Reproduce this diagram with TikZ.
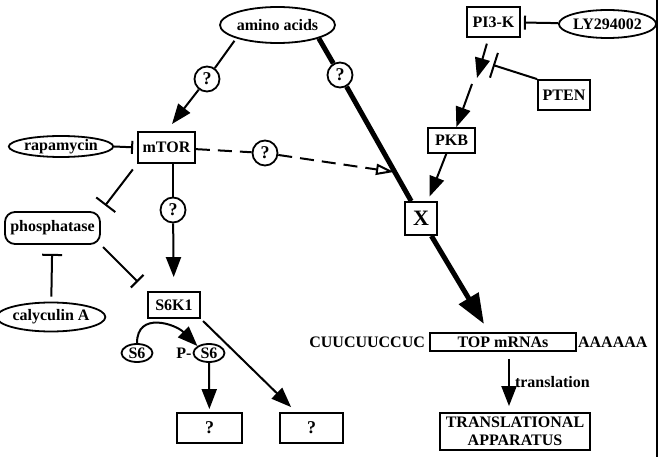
\documentclass[tikz,border=0pt]{standalone}
\usepackage{fontspec}
\setmainfont{Liberation Serif}
\usetikzlibrary{arrows.meta,shapes.geometric,positioning}

\begin{document}
\begin{tikzpicture}[x=1pt,y=-1pt,
    font=\fontsize{16}{17}\selectfont\bfseries,
    every node/.style={inner sep=0pt},
    bx/.style 2 args={draw,line width=1.8pt,minimum width=#1,minimum height=#2},
    oval/.style 2 args={ellipse,draw,line width=1.8pt,minimum width=#1,minimum height=#2},
    qfont/.style={font=\fontsize{18}{18}\selectfont\bfseries},
    qm/.style={circle,draw,line width=1.8pt,minimum size=25pt,qfont},
    ln/.style={line width=2pt},
    act/.style={ln,-{Triangle[length=20pt,width=15pt]}},
    inh/.style={ln,-{Bar[width=#1]}},
    inh/.default=16pt,
    dsh/.style={ln,dash pattern=on 14pt off 8pt},
    fat/.style={line width=5pt}]
  \useasboundingbox (0,0) rectangle (661,457);
  \draw[line width=1.5pt] (657,0) -- (657,457);
  % ovals
  \node[oval={107pt}{36pt}] (aa) at (277.5,25) {amino acids};
  \node[oval={92pt}{21pt}] (rapa) at (61,146.5) {rapamycin};
  \node[oval={91pt}{29pt}] (caly) at (51,317) {calyculin A};
  \node[oval={91pt}{28pt}] (ly) at (607.5,24) {LY294002};
  \node[oval={31pt}{18pt}] (s6) at (137,353) {S6};
  \node[oval={31pt}{18pt}] (ps6) at (209,353) {S6};
  \node[left=1pt of ps6] (pp) {P-};
  % boxes
  \node[bx={57pt}{31pt}] (mtor) at (166.5,147.5) {mTOR};
  \node[bx={95pt}{32pt},rounded corners=10pt] (phos) at (52.5,228) {phosphatase};
  \node[bx={52pt}{26pt}] (s6k1) at (174,305) {S6K1};
  \node[bx={65pt}{30pt},qfont] (qb1) at (209.5,428) {?};
  \node[bx={63pt}{30pt},qfont] (qb2) at (311.5,428) {?};
  \node[bx={53pt}{30pt}] (pi3k) at (493.5,22) {PI3-K};
  \node[bx={52pt}{30pt}] (pten) at (564,95) {PTEN};
  \node[bx={47pt}{25pt}] (pkb) at (451.5,140.5) {PKB};
  \node[bx={32pt}{33pt},font=\fontsize{22}{22}\selectfont\bfseries] (x) at (421,218.5) {X};
  \node[bx={146pt}{18pt}] (top) at (503,342) {TOP mRNAs};
  \node[left=4pt of top] (cuu) {CUUCUUCCUC};
  \node[right=1pt of top] (aaa) {AAAAAA};
  \node[bx={150pt}{37pt},align=center,font=\fontsize{16}{18}\selectfont\bfseries] (trans) at (515,431.5) {TRANSLATIONAL\\APPARATUS};
  \foreach \n/\x/\y in {qa/207/79, qb/340/75, qc/265/153, qd/173/210}{
    \node[qm] (\n) at (\x,\y) {?};
  }
  \coordinate (hit) at (394,172);
  \coordinate (tp) at (484,324);
  \coordinate (m1) at (477,78);
  \coordinate (m2) at (472,84);
  \coordinate (pb) at (493,65);
  \coordinate (t1) at ([xshift=6pt]top.south);
  \coordinate (t2) at (t1 |- trans.north);
  % amino acids
  \draw[ln,shorten <=3pt] (aa.south west) -- (qa);
  \draw[act,shorten >=9pt] (qa) -- (mtor.north);
  \draw[fat] (aa.south east) -- (qb) -- (x);
  \draw[fat,-{Triangle[length=30pt,width=22pt]}] (x) -- (tp);
  \draw[dsh] (mtor) -- (qc);
  \draw[dsh,-{Triangle[open,length=18pt,width=11pt]}] (qc) -- (hit);
  % mTOR branch
  \draw[ln] (mtor.south -| qd) -- (qd);
  \draw[act,shorten >=14pt] (qd) -- (s6k1);
  \draw[inh=13pt,shorten >=4pt] (rapa.east) -- (mtor.west);
  \draw[inh=24pt,shorten <=7pt,shorten >=7pt] (mtor.south west) -- (phos.north east);
  \draw[inh=18pt,shorten <=3pt,shorten >=13pt] (phos.south east) -- (s6k1.north west);
  \draw[inh=20pt,shorten <=5pt,shorten >=9pt] (caly) -- (phos);
  \draw[act] (s6.north) .. controls +(0,-32) and +(-22,-22) .. (ps6.north west);
  \draw[act,shorten >=3pt] (ps6) -- (qb1);
  \draw[act,shorten <=3pt] (s6k1.south east) -- ([xshift=12pt,yshift=5pt]qb2.north west);
  % PI3-K branch
  \draw[inh=14pt,shorten >=3pt] (ly) -- (pi3k);
  \draw[inh=26pt] (pten.north west) -- (pb);
  \draw[act,shorten <=6pt] ([xshift=-5pt]pi3k.south) -- (m1);
  \draw[act] (m2) -- (pkb);
  \draw[act,shorten >=5pt] (pkb) -- (x);
  \draw[act,shorten <=7pt,shorten >=6pt] (t1) -- (t2) node[midway,right=5pt] (tl) {translation};
\end{tikzpicture}
\end{document}
